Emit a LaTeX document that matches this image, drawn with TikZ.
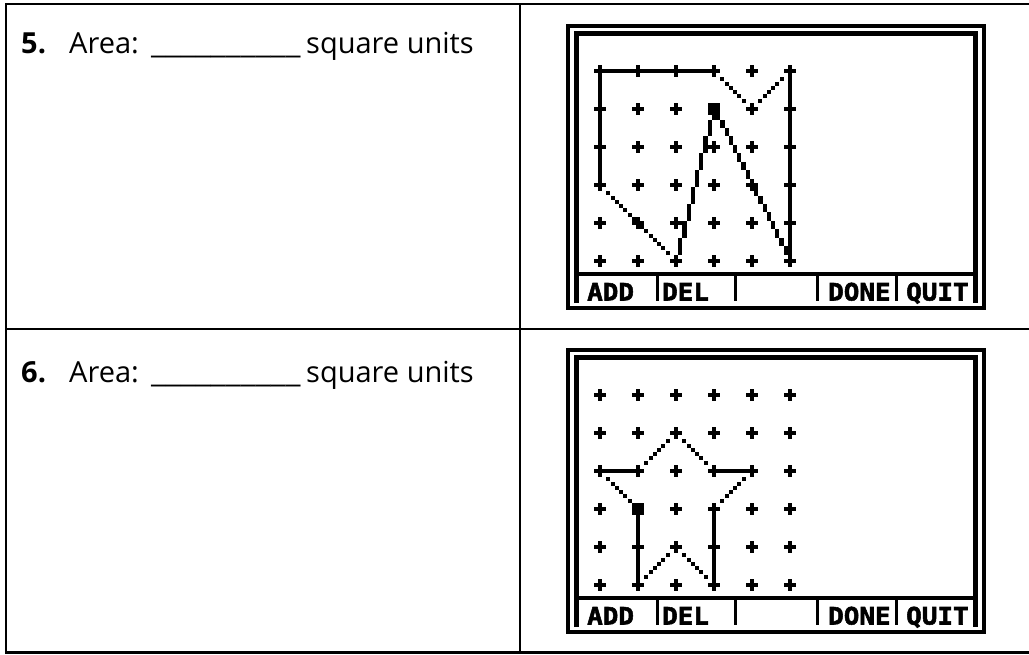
\documentclass[tikz,border=0pt]{standalone}
\usepackage{fontspec}
\setmainfont{Open Sans}
\newfontfamily\tifont[FakeStretch=1.08,FakeBold=2.2]{DejaVu Sans Mono}
\tikzset{
  tbl/.style={line width=2.3pt},
  ofr/.style={line width=4pt},
  ifr/.style={line width=4.6pt},
  menuline/.style={line width=4pt},
  sepline/.style={line width=3.4pt},
  qtext/.style={anchor=base west, inner sep=0pt, font=\fontsize{29}{35}\selectfont},
  qnum/.style={qtext, font=\fontsize{29}{35}\selectfont\bfseries},
  mlabel/.style={anchor=base west, inner sep=0pt, font=\tifont\bfseries\fontsize{24}{27}\selectfont},
}
% pixel-level helpers (inside a scope whose unit is one screen pixel)
\newcommand\hvline[4]{\fill (#1-0.48,#2-0.48) rectangle (#3+0.48,#4+0.48);}
\newcommand\dotline[5]{\foreach \k in {2,...,#5}{\fill ({#1+\k*#3-0.47},{#2+\k*#4-0.47}) rectangle ++(0.94,0.94);}}
\newcommand\pluses{\foreach \i in {0,...,5}{\foreach \j in {0,...,5}{%
  \fill ({9*\i-1.4},{9*\j-0.5}) rectangle ({9*\i+1.4},{9*\j+0.5});
  \fill ({9*\i-0.5},{9*\j-1.4}) rectangle ({9*\i+0.5},{9*\j+1.4});}}}
\newcommand\cursor[2]{\fill (#1-1.4,#2-1.4) rectangle (#1+1.4,#2+1.4);}
\newcommand\calcframe[2]{%
  \begin{scope}[shift={(0,#1)}]
    \draw[ofr] (568,26) rectangle (984,308);
    \draw[ifr] (576.5,303) -- (576.5,33.5) -- (975.5,33.5) -- (975.5,303);
    \draw[menuline] (574.2,274) -- (977.8,274);
    \foreach \x in {657.5,735.5,817.5,896.5}{\draw[sepline] (\x,274) -- (\x,301);}
    \node[mlabel] (#2add) at (587,300.5) {ADD};
    \node[mlabel] (#2del) at (662,300.5) {DEL};
    \node[mlabel] (#2done) at (828,300.5) {DONE};
    \node[mlabel] (#2quit) at (906,300.5) {QUIT};
  \end{scope}}
\begin{document}
\begin{tikzpicture}[x=1pt,y=-1pt]
\useasboundingbox (0,0) rectangle (1029,654);
\fill[white] (0,0) rectangle (1029,654);
% table
\draw[tbl] (1032,4) -- (6,4) -- (6,652.5) -- (1032,652.5);
\draw[tbl] (6,329) -- (1032,329);
\draw[tbl] (520,4) -- (520,652.5);
% question texts
\node[qnum] (n5) at (21,53) {5.};
\node[qtext] (a5) at (69,53) {Area:};
\node[qtext] (u5) at (151,53) {\scalebox{1.15}[1]{\_\_\_\_\_\_\_\_\_\_}};
\node[qtext] (s5) at (306,53) {square units};
\node[qnum] (n6) at (21,382) {6.};
\node[qtext] (a6) at (69,382) {Area:};
\node[qtext] (u6) at (151,382) {\scalebox{1.15}[1]{\_\_\_\_\_\_\_\_\_\_}};
\node[qtext] (s6) at (306,382) {square units};
% calculator screens
\calcframe{0}{t}
\calcframe{324}{b}
% screen 5
\begin{scope}[shift={(600,71)}, x=4.2222pt, y=-4.2222pt]
  \pluses
  \hvline{0}{0}{27}{0}
  \dotline{27}{0}{1}{1}{7}
  \dotline{36}{9}{1}{-1}{7}
  \hvline{45}{0}{45}{45}
  \hvline{0}{0}{0}{27}
  \dotline{0}{27}{1}{1}{16}
  \foreach \k in {0,...,36}{\pgfmathsetmacro\xx{round(\k/4)}\fill ({18+\xx-0.5},{45-\k-0.5}) rectangle ++(1,1);}
  \foreach \k in {0,...,36}{\pgfmathsetmacro\xx{round(\k/2)}\fill ({27+\xx-0.5},{9+\k-0.5}) rectangle ++(1,1);}
  \cursor{27}{9}
\end{scope}
% screen 6
\begin{scope}[shift={(600,395)}, x=4.2222pt, y=-4.2222pt]
  \pluses
  \hvline{0}{18}{9}{18}
  \dotline{9}{18}{1}{-1}{7}
  \dotline{18}{9}{1}{1}{7}
  \hvline{27}{18}{36}{18}
  \dotline{36}{18}{-1}{1}{7}
  \hvline{27}{27}{27}{45}
  \dotline{27}{45}{-1}{-1}{7}
  \dotline{18}{36}{-1}{1}{7}
  \hvline{9}{27}{9}{45}
  \dotline{9}{27}{-1}{-1}{7}
  \cursor{9}{27}
\end{scope}
\end{tikzpicture}
\end{document}
